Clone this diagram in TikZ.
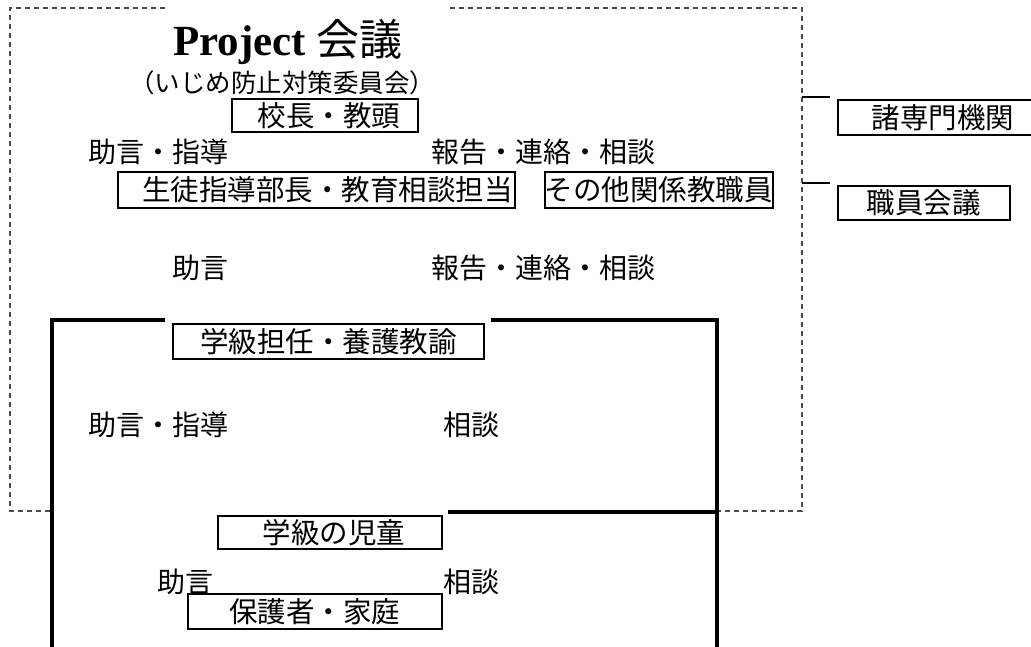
\documentclass[tikz,border=0pt]{standalone}
\usepackage{fontspec}
\setmainfont{Liberation Serif}
\newfontfamily\jp{Noto Sans CJK JP}
\usetikzlibrary{positioning}

\begin{document}
\begin{tikzpicture}[x=1pt, y=-1pt]

\tikzstyle{box} = [rectangle, draw, line width=1.6pt, inner sep=0pt, anchor=north west, font=\jp\fontsize{28.5}{32}\selectfont]
\tikzstyle{lbl} = [inner sep=0pt, font=\jp\fontsize{28}{32}\selectfont]
\tikzstyle{frame} = [draw, line width=4pt]
\tikzstyle{dash_line} = [draw, black!70, line width=1.2pt, dash pattern=on 5pt off 4pt]
\tikzstyle{link} = [draw, line width=1.8pt]

	\useasboundingbox (0,0) rectangle (1031,646);

	\node[anchor=base, inner sep=0pt, font=\fontsize{43}{46}\selectfont] (titel) at (288,55) {\textbf{Project} {\jp 会議}};
	\node[inner sep=0pt, font=\jp\fontsize{25.5}{28}\selectfont] (untertitel) at (282,83) {（いじめ防止対策委員会）};

	\node[box, minimum width=186pt, minimum height=33pt] (kocho) at (231,98) {\hspace*{8pt}校長・教頭};
	\node[box, minimum width=397pt, minimum height=36pt] (seito) at (117,171) {\hspace*{22pt}生徒指導部長・教育相談担当};
	\node[box, minimum width=228pt, minimum height=36pt] (sonota) at (544,171) {その他関係教職員};
	\node[box, minimum width=311pt, minimum height=35pt] (tannin) at (172,323) {学級担任・養護教諭};
	\node[box, minimum width=224pt, minimum height=33pt] (jido) at (217,515) {\hspace*{8pt}学級の児童};
	\node[box, minimum width=254pt, minimum height=35pt] (hogosha) at (187,593) {保護者・家庭};

	\node[box, minimum width=210pt, minimum height=35pt] (senmon) at (837,99) {諸専門機関};
	\node[box, minimum width=172pt, minimum height=34pt] (shokuin) at (837,185) {職員会議};

	\node[lbl] (jogen1) at (158,152) {助言・指導};
	\node[lbl] (hokoku1) at (543,152) {報告・連絡・相談};
	\node[lbl] (jogen2) at (200,268) {助言};
	\node[lbl] (hokoku2) at (543,268) {報告・連絡・相談};
	\node[lbl] (jogen3) at (158,425) {助言・指導};
	\node[lbl] (sodan3) at (471,425) {相談};
	\node[lbl] (jogen4) at (185,582) {助言};
	\node[lbl] (sodan4) at (471,582) {相談};

	\coordinate (d1) at (165,8);
	\coordinate (d2) at (450,8);
	\coordinate (f1) at (165,320);
	\coordinate (f2) at (491,320);
	\coordinate (f3) at (448,512);
	\coordinate (r1) at (802,97);
	\coordinate (r2) at (802,183);
	\coordinate (e1) at (830,97);
	\coordinate (e2) at (830,183);

	\draw[dash_line] (d1) -- (10,8) -- (10,511) -- (52,511);
	\draw[dash_line] (d2) -- (802,8) -- (802,511) -- (717,511);

	\draw[frame] (f1) -| (52,650);
	\draw[frame] (f2) -| (717,650);
	\draw[frame] (f3) -- (717,512);

	\draw[link] (r1) -- (e1);
	\draw[link] (r2) -- (e2);

\end{tikzpicture}
\end{document}
